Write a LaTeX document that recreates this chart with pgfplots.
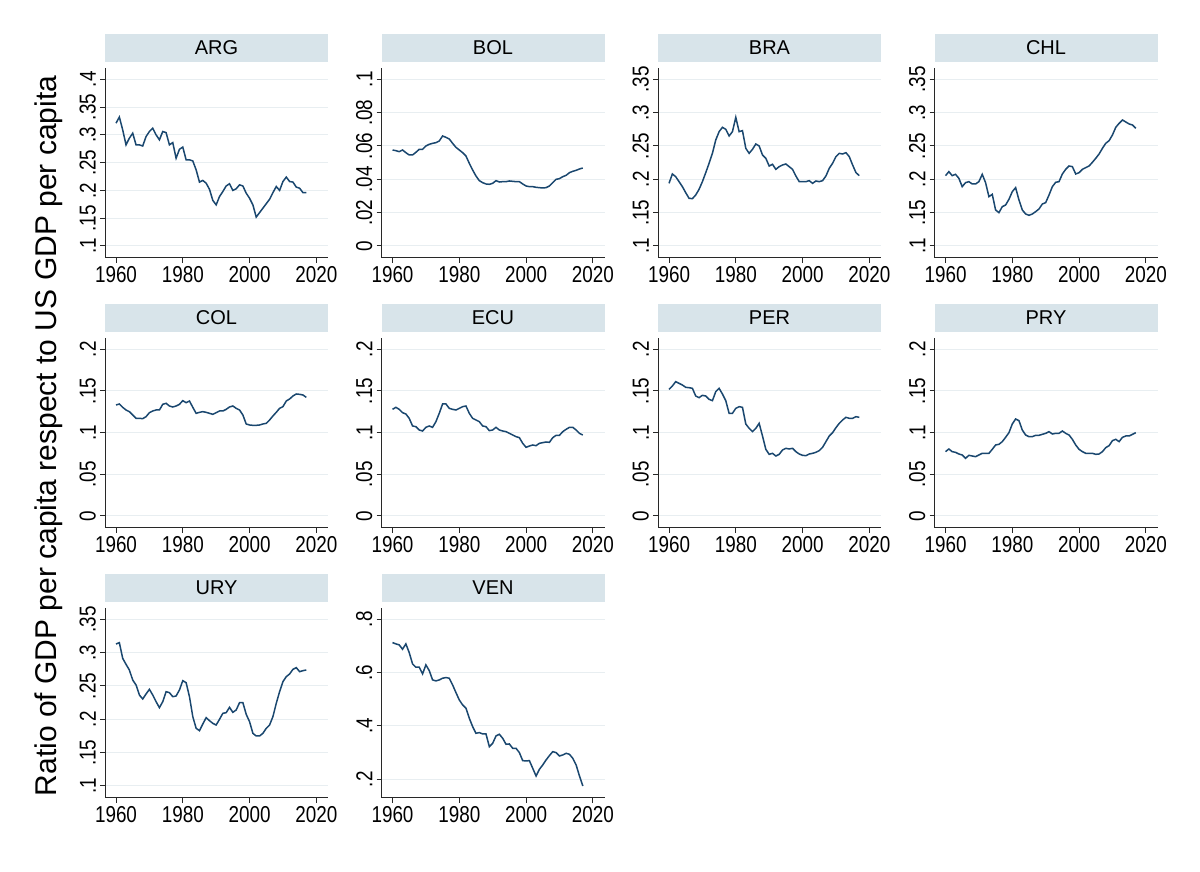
\documentclass[border=0pt]{standalone}
\usepackage{fontspec}
\setmainfont{Liberation Sans}
\newfontfamily\tickfont{Liberation Sans}[FakeStretch=0.82]
\usepackage{pgfplots}
\usepackage{pgfplotstable}
\pgfplotsset{compat=1.18}
\definecolor{stripc}{RGB}{216,228,234}
\definecolor{gridc}{RGB}{232,238,241}
\definecolor{linec}{RGB}{26,71,111}
\definecolor{axc}{RGB}{40,40,40}

\pgfplotstableread{
year ARG BOL BRA CHL COL ECU PER PRY URY VEN
1960 0.321 0.0576 0.194 0.2055 0.1332 0.128 0.152 0.0772 0.313 0.7125
1961 0.332 0.0572 0.208 0.2115 0.1344 0.1304 0.156 0.0804 0.315 0.7075
1962 0.309 0.0566 0.204 0.2055 0.1304 0.128 0.1612 0.0772 0.2915 0.7038
1963 0.282 0.0576 0.1965 0.2075 0.1272 0.124 0.1592 0.0764 0.2825 0.6875
1964 0.294 0.056 0.189 0.2015 0.1252 0.1224 0.1572 0.0744 0.274 0.7075
1965 0.303 0.0546 0.180 0.189 0.1212 0.1172 0.1544 0.0732 0.259 0.675
1966 0.282 0.0546 0.1715 0.195 0.1172 0.108 0.154 0.0692 0.2515 0.6325
1967 0.282 0.0562 0.171 0.1965 0.1172 0.1072 0.1532 0.0728 0.2365 0.62
1968 0.280 0.058 0.1765 0.193 0.1168 0.1032 0.144 0.072 0.2305 0.62
1969 0.297 0.058 0.185 0.193 0.1192 0.102 0.142 0.0712 0.238 0.595
1970 0.306 0.060 0.1965 0.1965 0.124 0.1064 0.1448 0.0732 0.245 0.6288
1971 0.312 0.061 0.210 0.2075 0.126 0.108 0.144 0.0752 0.2365 0.6075
1972 0.300 0.0616 0.224 0.195 0.1272 0.1064 0.140 0.0752 0.2265 0.5725
1973 0.291 0.062 0.239 0.174 0.1272 0.1132 0.1384 0.0752 0.2175 0.5688
1974 0.306 0.063 0.259 0.1775 0.134 0.1232 0.1492 0.080 0.2265 0.5725
1975 0.304 0.066 0.2715 0.154 0.1352 0.1344 0.1532 0.0852 0.2415 0.5788
1976 0.282 0.0652 0.278 0.150 0.132 0.1344 0.1464 0.086 0.240 0.5813
1977 0.286 0.0642 0.275 0.159 0.1308 0.1292 0.1384 0.0892 0.234 0.5788
1978 0.258 0.0616 0.265 0.1615 0.132 0.128 0.1232 0.0944 0.235 0.5538
1979 0.274 0.0592 0.2715 0.170 0.134 0.1272 0.1232 0.100 0.244 0.525
1980 0.278 0.0576 0.293 0.1815 0.1384 0.1292 0.1292 0.1104 0.258 0.4975
1981 0.255 0.056 0.2715 0.1875 0.136 0.1312 0.1312 0.1164 0.255 0.4788
1982 0.255 0.054 0.273 0.169 0.138 0.132 0.1304 0.1144 0.234 0.4663
1983 0.253 0.0496 0.2465 0.154 0.1304 0.1232 0.1104 0.1032 0.204 0.4288
1984 0.237 0.0456 0.239 0.148 0.1232 0.1172 0.1052 0.0972 0.1865 0.3975
1985 0.215 0.042 0.245 0.146 0.1244 0.1152 0.1012 0.0952 0.183 0.3725
1986 0.218 0.0392 0.253 0.148 0.1252 0.1132 0.1052 0.0952 0.193 0.375
1987 0.213 0.038 0.250 0.1515 0.1244 0.108 0.1112 0.0968 0.2025 0.37
1988 0.202 0.0372 0.2365 0.1555 0.1232 0.1072 0.096 0.0968 0.198 0.37
1989 0.182 0.037 0.2315 0.163 0.122 0.1024 0.080 0.098 0.194 0.3225
1990 0.174 0.0376 0.220 0.165 0.124 0.1032 0.074 0.0992 0.1915 0.335
1991 0.189 0.0392 0.2225 0.1765 0.126 0.1064 0.0752 0.1012 0.200 0.3625
1992 0.198 0.0384 0.215 0.189 0.126 0.1032 0.072 0.0984 0.209 0.3688
1993 0.208 0.0386 0.219 0.1955 0.128 0.102 0.074 0.0992 0.210 0.3538
1994 0.212 0.0386 0.2215 0.1965 0.1308 0.1012 0.0792 0.0992 0.218 0.3313
1995 0.200 0.039 0.223 0.208 0.132 0.0992 0.0812 0.102 0.2105 0.3325
1996 0.203 0.0388 0.219 0.215 0.1292 0.0972 0.0804 0.0992 0.214 0.3163
1997 0.210 0.0386 0.215 0.220 0.1272 0.0952 0.0812 0.0972 0.225 0.3163
1998 0.208 0.0386 0.205 0.219 0.1212 0.094 0.0772 0.092 0.225 0.300
1999 0.195 0.0372 0.1965 0.208 0.1104 0.0872 0.0744 0.0852 0.2075 0.270
2000 0.186 0.036 0.1965 0.210 0.1092 0.0824 0.0728 0.080 0.1965 0.2688
2001 0.174 0.0356 0.1965 0.215 0.1088 0.084 0.0724 0.0772 0.179 0.270
2002 0.152 0.0356 0.198 0.2175 0.1088 0.0852 0.0744 0.0752 0.175 0.2413
2003 0.160 0.0352 0.194 0.220 0.1092 0.0844 0.0752 0.0752 0.175 0.2125
2004 0.168 0.035 0.1975 0.2255 0.1104 0.0872 0.0764 0.0752 0.179 0.2375
2005 0.176 0.0348 0.1965 0.2315 0.1112 0.088 0.0784 0.074 0.1865 0.2538
2006 0.184 0.035 0.198 0.238 0.1152 0.0888 0.0824 0.0744 0.1915 0.2725
2007 0.196 0.036 0.205 0.2465 0.120 0.0884 0.0892 0.0772 0.204 0.2888
2008 0.207 0.038 0.2165 0.254 0.1244 0.094 0.096 0.082 0.224 0.3038
2009 0.200 0.040 0.224 0.258 0.1292 0.0968 0.100 0.0844 0.2415 0.300
2010 0.216 0.0404 0.234 0.2665 0.1312 0.0968 0.106 0.0904 0.2565 0.2875
2011 0.224 0.0416 0.239 0.278 0.138 0.1012 0.1112 0.092 0.264 0.2913
2012 0.216 0.0424 0.238 0.284 0.1404 0.104 0.1152 0.0892 0.268 0.2975
2013 0.215 0.044 0.240 0.289 0.144 0.1064 0.1184 0.0944 0.275 0.2938
2014 0.206 0.0448 0.234 0.286 0.1464 0.1064 0.1172 0.096 0.2775 0.2788
2015 0.204 0.0454 0.2215 0.283 0.146 0.1032 0.1172 0.096 0.2715 0.2538
2016 0.196 0.0462 0.210 0.2815 0.1452 0.0992 0.1192 0.098 0.273 0.2125
2017 0.196 0.0468 0.2055 0.2765 0.1424 0.0972 0.1184 0.100 0.274 0.175
}\gdp

\pgfplotsset{
  panel/.style={
    scale only axis, width=223pt, height=190pt, anchor=south west,
    xmin=1956.7, xmax=2023.5,
    axis x line*=bottom, axis y line*=left,
    axis line style={-, line width=1pt, axc},
    xtick={1960,1980,2000,2020}, xticklabels={1960,1980,2000,2020},
    tick align=outside, major tick length=5pt, minor tick num=0,
    tick style={line width=1pt, axc},
    ymajorgrids, grid style={gridc, line width=1pt},
    every tick label/.append style={font=\tickfont\fontsize{23}{25}\selectfont, text=black},
    xticklabel style={inner sep=3pt},
    yticklabel style={rotate=90, anchor=south, inner sep=4pt},
    title style={at={(0.5,1)}, anchor=south, yshift=0pt, fill=stripc,
      minimum width=223pt, minimum height=28pt, inner sep=0pt,
      font=\fontsize{20}{22}\selectfont},
    scaled ticks=false,
  },
  l05/.style={ymin=-0.0144, ymax=0.2136, ytick={0,0.05,0.1,0.15,0.2},
    yticklabels={0,.05,.1,.15,.2}},
  l35/.style={ymin=0.082, ymax=0.367, ytick={0.1,0.15,0.2,0.25,0.3,0.35},
    yticklabels={.1,.15,.2,.25,.3,.35}},
  ser/.style={linec, line width=1.5pt, no marks},
}

\begin{document}
\begin{tikzpicture}[x=1pt,y=1pt]
\path[use as bounding box, fill=white] (0,0) rectangle (1200,872);

% Row 1
\begin{axis}[panel, at={(105pt,614pt)}, title=ARG,
  ymin=0.0784, ymax=0.4203, ytick={0.1,0.15,0.2,0.25,0.3,0.35,0.4},
  yticklabels={.1,.15,.2,.25,.3,.35,.4}]
\addplot[ser] table[x=year,y=ARG]{\gdp};
\end{axis}
\begin{axis}[panel, at={(381.5pt,614pt)}, title=BOL,
  ymin=-0.0072, ymax=0.1068, ytick={0,0.02,0.04,0.06,0.08,0.1},
  yticklabels={0,.02,.04,.06,.08,.1}]
\addplot[ser] table[x=year,y=BOL]{\gdp};
\end{axis}
\begin{axis}[panel, l35, at={(658pt,614pt)}, title=BRA]
\addplot[ser] table[x=year,y=BRA]{\gdp};
\end{axis}
\begin{axis}[panel, l35, at={(934.5pt,614pt)}, title=CHL]
\addplot[ser] table[x=year,y=CHL]{\gdp};
\end{axis}

% Row 2
\begin{axis}[panel, l05, at={(105pt,344pt)}, title=COL]
\addplot[ser] table[x=year,y=COL]{\gdp};
\end{axis}
\begin{axis}[panel, l05, at={(381.5pt,344pt)}, title=ECU]
\addplot[ser] table[x=year,y=ECU]{\gdp};
\end{axis}
\begin{axis}[panel, l05, at={(658pt,344pt)}, title=PER]
\addplot[ser] table[x=year,y=PER]{\gdp};
\end{axis}
\begin{axis}[panel, l05, at={(934.5pt,344pt)}, title=PRY]
\addplot[ser] table[x=year,y=PRY]{\gdp};
\end{axis}

% Row 3
\begin{axis}[panel, l35, at={(105pt,74pt)}, title=URY]
\addplot[ser] table[x=year,y=URY]{\gdp};
\end{axis}
\begin{axis}[panel, at={(381.5pt,74pt)}, title=VEN,
  ymin=0.130, ymax=0.842, ytick={0.2,0.4,0.6,0.8},
  yticklabels={.2,.4,.6,.8}]
\addplot[ser] table[x=year,y=VEN]{\gdp};
\end{axis}

\node[rotate=90, anchor=base, font=\fontsize{30}{32}\selectfont] at (56,436)
  {Ratio of GDP per capita respect to US GDP per capita};
\end{tikzpicture}
\end{document}
